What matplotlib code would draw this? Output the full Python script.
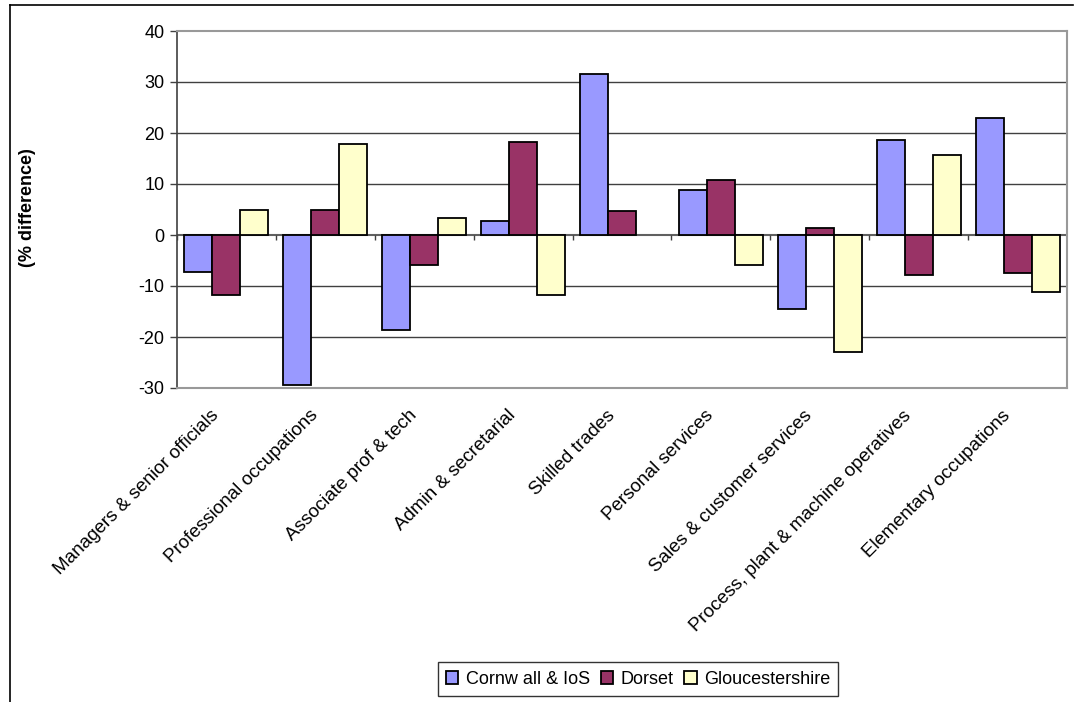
import matplotlib
matplotlib.use("Agg")
import matplotlib.pyplot as plt
import matplotlib.transforms as mtransforms
import numpy as np
from matplotlib.lines import Line2D

categories = ["Managers & senior officials", "Professional occupations", "Associate prof & tech",
              "Admin & secretarial", "Skilled trades", "Personal services",
              "Sales & customer services", "Process, plant & machine operatives",
              "Elementary occupations"]
cornwall = [-7.2, -29.4, -18.6, 2.7, 31.5, 8.8, -14.5, 18.6, 23.0]
dorset = [-11.8, 5.0, -5.8, 18.2, 4.7, 10.8, 1.3, -7.8, -7.5]
glouc = [5.0, 17.9, 3.4, -11.8, float('nan'), -5.8, -23.0, 15.6, -11.2]
series_names = ["Cornw all & IoS", "Dorset", "Gloucestershire"]
colors = ["#9999FF", "#993366", "#FFFFCC"]
yticks = [-30, -20, -10, 0, 10, 20, 30, 40]

plt.rcParams['font.family'] = ['Liberation Sans', 'DejaVu Sans']
FS = 13

W, H = 1074, 702
fig = plt.figure(figsize=(W/100, H/100), dpi=100)
ax = fig.add_axes([177/W, 1-388/H, (1067-177)/W, (388-31)/H])

x = np.arange(len(categories))
bw = 0.283
for i, (vals, c, name) in enumerate(zip([cornwall, dorset, glouc], colors, series_names)):
    ax.bar(x + (i-1)*bw, vals, width=bw, color=c, edgecolor='black', linewidth=1.3,
           label=name, zorder=3)

ax.set_xlim(-0.5, len(categories)-0.5)
ax.set_ylim(-30, 40)
ax.set_yticks(yticks)
ax.set_yticklabels([str(v) for v in yticks], fontsize=FS)
for v in yticks[1:-1]:
    if v != 0:
        ax.axhline(v, color='#404040', lw=1, zorder=1)
ax.axhline(0, color='#606060', lw=1.5, zorder=2)
ax.vlines(np.arange(len(categories)+1)-0.5, 0, -0.9, color='#404040', lw=1, zorder=2)

ax.set_xticks(x)
ax.set_xticklabels(categories, rotation=45, ha='right', va='center', rotation_mode='anchor', fontsize=13.6)
ax.tick_params(axis='x', length=0, pad=18)
ax.tick_params(axis='y', length=5, width=1, color='#404040', pad=4)
offset = mtransforms.ScaledTranslation(-10/100, 0, fig.dpi_scale_trans)
for lab in ax.get_xticklabels():
    lab.set_transform(lab.get_transform() + offset)

for s in ['top', 'right', 'bottom']:
    ax.spines[s].set_color('#999999')
    ax.spines[s].set_linewidth(1.5)
ax.spines['left'].set_color('#404040')
ax.spines['left'].set_linewidth(1.2)

fig.text(28/W, 1-208/H, "(% difference)", rotation=90, ha='center', va='center',
         fontsize=FS, fontweight='bold')

leg = fig.legend(loc='center', bbox_to_anchor=(638/W, 1-679/H), ncol=3, fontsize=FS,
                 frameon=True, fancybox=False, edgecolor='black', handlelength=0.7,
                 handleheight=0.7, handletextpad=0.4, columnspacing=0.6, borderpad=0.45)
leg.get_frame().set_linewidth(1)

# chart area border
fig.add_artist(Line2D([9.5/W, 9.5/W], [0, 1-5/H], color='black', lw=1.2, transform=fig.transFigure))
fig.add_artist(Line2D([9.5/W, 1073/W], [1-5/H, 1-5/H], color='black', lw=1.2, transform=fig.transFigure))

fig.savefig("out.png", dpi=100)
